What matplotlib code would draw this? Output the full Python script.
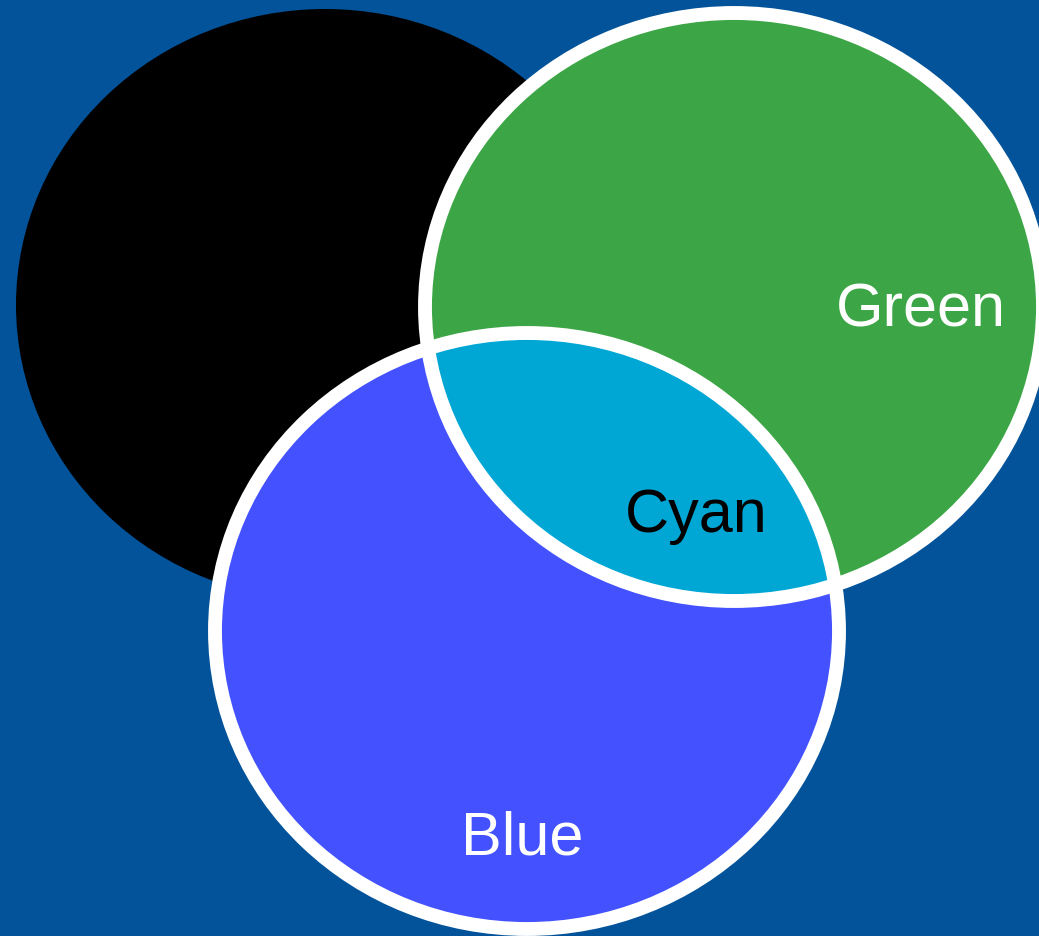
import matplotlib.pyplot as plt
from matplotlib.patches import Ellipse

plt.rcParams['font.family'] = ['Liberation Sans', 'DejaVu Sans']

# sets in the diagram
sets = ['Black', 'Green', 'Blue']
overlap_label = 'Cyan'
labels = ['Green', 'Cyan', 'Blue']

# geometry in pixel units (x right, y down)
centers = {'Black': (325, 306), 'Green': (734, 308), 'Blue': (527, 632)}
sizes = {'Black': (618, 592), 'Green': (618, 588), 'Blue': (624, 596)}
fills = {'Black': '#000000', 'Green': '#3ca646', 'Blue': '#4352fe'}
cyan = '#00a7d5'
bg = '#03539a'

label_pos = {'Green': (921, 327), 'Cyan': (696, 532), 'Blue': (522, 855)}
label_col = {'Green': 'white', 'Cyan': 'black', 'Blue': 'white'}

fig = plt.figure(figsize=(10.39, 9.37), dpi=100)
fig.patch.set_facecolor(bg)
ax = fig.add_axes([0, 0, 1, 1])
ax.set_xlim(0, 1039)
ax.set_ylim(937, 0)
ax.axis('off')

patches = {}
for name in sets:
    w, h = sizes[name]
    e = Ellipse(centers[name], w, h, facecolor=fills[name], edgecolor='none', zorder=1)
    ax.add_patch(e)
    patches[name] = e

# overlap of green and blue
w, h = sizes['Blue']
lens = Ellipse(centers['Blue'], w, h, facecolor=cyan, edgecolor='none', zorder=2)
ax.add_patch(lens)
lens.set_clip_path(patches['Green'])

# white outlines on top
for name in ['Green', 'Blue']:
    w, h = sizes[name]
    ax.add_patch(Ellipse(centers[name], w, h, facecolor='none', edgecolor='white',
                         linewidth=10, zorder=3))

for lab in labels:
    x, y = label_pos[lab]
    ax.text(x, y, lab, color=label_col[lab], fontsize=44, ha='center', va='baseline', zorder=4)

fig.savefig('out.png', dpi=100, facecolor=bg)
